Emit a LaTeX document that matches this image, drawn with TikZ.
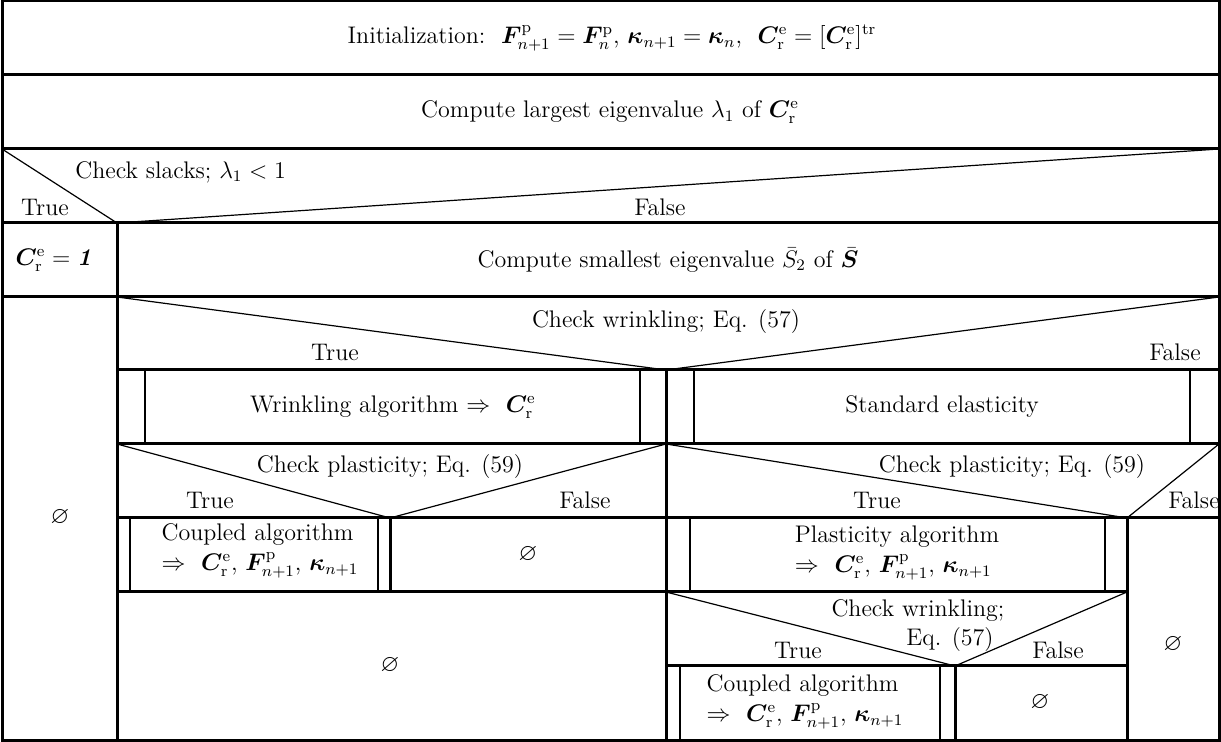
\documentclass[tikz,border=0pt]{standalone}
\usepackage{amsmath,amssymb,bm}
\begin{document}
\tikzset{
  frame/.style={line width=1.5pt, line cap=rect},
  bar/.style={line width=1pt},
  diag/.style={line width=0.6pt},
  lbl/.style={inner sep=0pt, font=\fontsize{12}{15}\selectfont},
}
\newcommand{\Cre}{\boldsymbol{C}^{\mathrm{e}}_{\mathrm{r}}}
\newcommand{\Fpn}{\boldsymbol{F}^{\mathrm{p}}_{n+1}}
\newcommand{\kn}{\boldsymbol{\kappa}_{n+1}}
\begin{tikzpicture}[x=0.5pt,y=-0.5pt]
\useasboundingbox (0,0) rectangle (1221,742);
% outer frame and full-width rows
\draw[frame] (2,1) rectangle (1219,740);
\draw[frame] (2,75) -- (1219,75);
\draw[frame] (2,149) -- (1219,149);
\draw[frame] (2,223) -- (1219,223);
\draw[frame] (2,297) -- (1219,297);
\draw[frame] (117,223) -- (117,740);
\draw[frame] (117,370) -- (1219,370);
\draw[frame] (117,444) -- (1219,444);
\draw[frame] (117,518) -- (1219,518);
\draw[frame] (117,592) -- (1127,592);
\draw[frame] (666,370) -- (666,740);
\draw[frame] (390,518) -- (390,592);
\draw[frame] (1127,518) -- (1127,740);
\draw[frame] (666,666) -- (1127,666);
\draw[frame] (955,666) -- (955,740);
% inner bars
\draw[bar] (145,370) -- (145,444) (640,370) -- (640,444);
\draw[bar] (694,370) -- (694,444) (1190,370) -- (1190,444);
\draw[bar] (130,518) -- (130,592) (378,518) -- (378,592);
\draw[bar] (690,518) -- (690,592) (1105,518) -- (1105,592);
\draw[bar] (680,666) -- (680,740) (940,666) -- (940,740);
% decision diagonals
\draw[diag] (2,149) -- (117,223) -- (1219,149);
\draw[diag] (117,297) -- (666,370) -- (1219,297);
\draw[diag] (117,444) -- (390,518) -- (666,444);
\draw[diag] (666,444) -- (1127,518) -- (1219,444);
\draw[diag] (666,592) -- (955,666) -- (1127,592);
% texts
\node[lbl] (init) at (612,38) {Initialization:~~$\Fpn=\boldsymbol{F}^{\mathrm{p}}_{n}$, $\kn=\boldsymbol{\kappa}_{n}$,~~$\Cre=[\Cre]^{\mathrm{tr}}$};
\node[lbl] (largest) at (610,112) {Compute largest eigenvalue $\lambda_1$ of $\Cre$};
\node[lbl,anchor=west] (slacks) at (75,172) {Check slacks; $\lambda_1<1$};
\node[lbl] (t1) at (45,207) {True};
\node[lbl] (f1) at (660,207) {False};
\node[lbl] (one) at (55,260) {$\Cre=\boldsymbol{\mathit{1}}$};
\node[lbl] (smallest) at (668,260) {Compute smallest eigenvalue $\bar{S}_2$ of $\bar{\boldsymbol{S}}$};
\node[lbl] (e1) at (60,518) {$\varnothing$};
\node[lbl] (wr) at (666,322) {Check wrinkling; Eq. (57)};
\node[lbl] (t2) at (335,352) {True};
\node[lbl] (f2) at (1175,352) {False};
\node[lbl] (wralg) at (393,407) {Wrinkling algorithm $\Rightarrow$ \ $\Cre$};
\node[lbl] (std) at (942,407) {Standard elasticity};
\node[lbl] (pl1) at (390,467) {Check plasticity; Eq. (59)};
\node[lbl] (t3) at (210,500) {True};
\node[lbl] (f3) at (585,500) {False};
\node[lbl,align=left] (cp1) at (260,551) {Coupled algorithm\\$\Rightarrow$ \ $\Cre$, $\Fpn$, $\kn$};
\node[lbl] (e2) at (528,555) {$\varnothing$};
\node[lbl] (e3) at (390,666) {$\varnothing$};
\node[lbl] (pl2) at (1012,467) {Check plasticity; Eq. (59)};
\node[lbl] (t4) at (877,500) {True};
\node[lbl] (f4) at (1194,500) {False};
\node[lbl,align=left] (plalg) at (897,553) {Plasticity algorithm\\$\Rightarrow$ \ $\Cre$, $\Fpn$, $\kn$};
\node[lbl] (e4) at (1173,645) {$\varnothing$};
\node[lbl] (wr2a) at (918,611) {Check wrinkling;};
\node[lbl] (wr2b) at (950,640) {Eq. (57)};
\node[lbl] (t5) at (798,650) {True};
\node[lbl] (f5) at (1058,650) {False};
\node[lbl,align=left] (cp2) at (805,702) {Coupled algorithm\\$\Rightarrow$ \ $\Cre$, $\Fpn$, $\kn$};
\node[lbl] (e5) at (1040,703) {$\varnothing$};
\end{tikzpicture}
\end{document}
